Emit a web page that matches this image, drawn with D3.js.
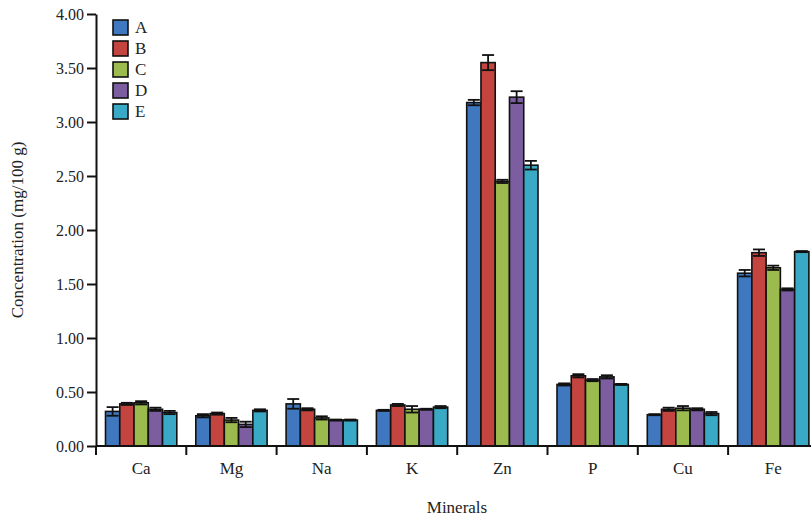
<!DOCTYPE html>
<meta charset="utf-8">
<style>
  body { margin: 0; background: #fff; }
  text { font-family: "Liberation Serif", "DejaVu Serif", serif; fill: #222; }
</style>
<svg width="811" height="518"></svg>
<script src="https://cdn.jsdelivr.net/npm/d3@7"></script>
<script>

var minerals = ["Ca", "Mg", "Na", "K", "Zn", "P", "Cu", "Fe"];
var groups = ["A", "B", "C", "D", "E"];
var colors = ["#3f78be", "#c4443f", "#9bbb4e", "#7c5ea0", "#3aa9c5"];

// mean values, one array per group (order of minerals)
var valA = [0.32, 0.28, 0.39, 0.33, 3.18, 0.57, 0.29, 1.60];
var valB = [0.39, 0.30, 0.34, 0.38, 3.55, 0.65, 0.34, 1.79];
var valC = [0.40, 0.24, 0.26, 0.34, 2.45, 0.61, 0.35, 1.65];
var valD = [0.34, 0.20, 0.24, 0.34, 3.23, 0.64, 0.34, 1.45];
var valE = [0.31, 0.33, 0.24, 0.36, 2.60, 0.57, 0.30, 1.80];

// error (+/-)
var errA = [0.04, 0.015, 0.045, 0.005, 0.025, 0.01, 0.005, 0.03];
var errB = [0.01, 0.01, 0.01, 0.01, 0.07, 0.015, 0.015, 0.03];
var errC = [0.015, 0.02, 0.015, 0.03, 0.015, 0.01, 0.02, 0.02];
var errD = [0.015, 0.025, 0.005, 0.005, 0.055, 0.015, 0.01, 0.01];
var errE = [0.015, 0.01, 0.005, 0.01, 0.04, 0.005, 0.015, 0.005];

var yTicks = [0, 0.5, 1, 1.5, 2, 2.5, 3, 3.5, 4];

var values = [valA, valB, valC, valD, valE];
var errors = [errA, errB, errC, errD, errE];

var svg = d3.select("svg");

var x0 = d3.scaleBand().domain(minerals).range([96, 96 + 8 * 90.3]);
var x1 = d3.scaleBand().domain(groups).range([9.5, 80.8]);
var y = d3.scaleLinear().domain([0, 4]).range([446, 14]);

var data = [];
minerals.forEach(function(m, i) {
  groups.forEach(function(g, j) {
    data.push({ mineral: m, group: g, gi: j, v: values[j][i], e: errors[j][i] });
  });
});

// bars
svg.append("g").selectAll("rect")
  .data(data)
  .enter().append("rect")
  .attr("x", function(d) { return x0(d.mineral) + x1(d.group); })
  .attr("y", function(d) { return y(d.v); })
  .attr("width", x1.bandwidth())
  .attr("height", function(d) { return y(0) - y(d.v); })
  .attr("fill", function(d) { return colors[d.gi]; })
  .attr("stroke", "#111")
  .attr("stroke-width", 1.6);

// error bars
var eb = svg.append("g").attr("stroke", "#111").attr("stroke-width", 1.8);
data.forEach(function(d) {
  var cx = x0(d.mineral) + x1(d.group) + x1.bandwidth() / 2;
  var hw = 6;
  eb.append("line").attr("x1", cx).attr("x2", cx).attr("y1", y(d.v - d.e)).attr("y2", y(d.v + d.e));
  eb.append("line").attr("x1", cx - hw).attr("x2", cx + hw).attr("y1", y(d.v + d.e)).attr("y2", y(d.v + d.e));
  eb.append("line").attr("x1", cx - hw).attr("x2", cx + hw).attr("y1", y(d.v - d.e)).attr("y2", y(d.v - d.e));
});

// y axis
var yAxis = svg.append("g")
  .attr("transform", "translate(96,0)")
  .call(d3.axisLeft(y).tickValues(yTicks).tickFormat(d3.format(".2f")).tickSize(9).tickSizeOuter(0));
yAxis.select(".domain").attr("stroke", "#111").attr("stroke-width", 2);
yAxis.selectAll(".tick line").attr("stroke", "#111").attr("stroke-width", 2);
yAxis.selectAll(".tick text").attr("font-size", 16).attr("font-family", "Liberation Serif").attr("fill", "#222").attr("x", -12);

// x axis
var xg = svg.append("g");
xg.append("line").attr("x1", 96).attr("x2", 811).attr("y1", y(0)).attr("y2", y(0))
  .attr("stroke", "#111").attr("stroke-width", 2);
var bounds = minerals.map(function(m) { return x0(m); }).concat([x0.range()[1]]);
xg.selectAll(".xt").data(bounds).enter().append("line")
  .attr("x1", function(d) { return d; }).attr("x2", function(d) { return d; })
  .attr("y1", y(0)).attr("y2", y(0) + 9)
  .attr("stroke", "#111").attr("stroke-width", 2);
xg.selectAll(".xl").data(minerals).enter().append("text")
  .attr("x", function(d) { return x0(d) + x0.bandwidth() / 2; })
  .attr("y", 474)
  .attr("text-anchor", "middle")
  .attr("font-size", 17)
  .text(function(d) { return d; });

// axis titles
svg.append("text")
  .attr("x", 457).attr("y", 513)
  .attr("text-anchor", "middle")
  .attr("font-size", 17)
  .text("Minerals");
svg.append("text")
  .attr("transform", "translate(23,230) rotate(-90)")
  .attr("text-anchor", "middle")
  .attr("font-size", 17)
  .text("Concentration (mg/100 g)");

// legend
var lg = svg.append("g").selectAll("g").data(groups).enter().append("g")
  .attr("transform", function(d, i) { return "translate(113," + (20 + i * 21) + ")"; });
lg.append("rect").attr("width", 15).attr("height", 15)
  .attr("fill", function(d, i) { return colors[i]; })
  .attr("stroke", "#111").attr("stroke-width", 1.6);
lg.append("text").attr("x", 22).attr("y", 13).attr("font-size", 17)
  .text(function(d) { return d; });

</script>
